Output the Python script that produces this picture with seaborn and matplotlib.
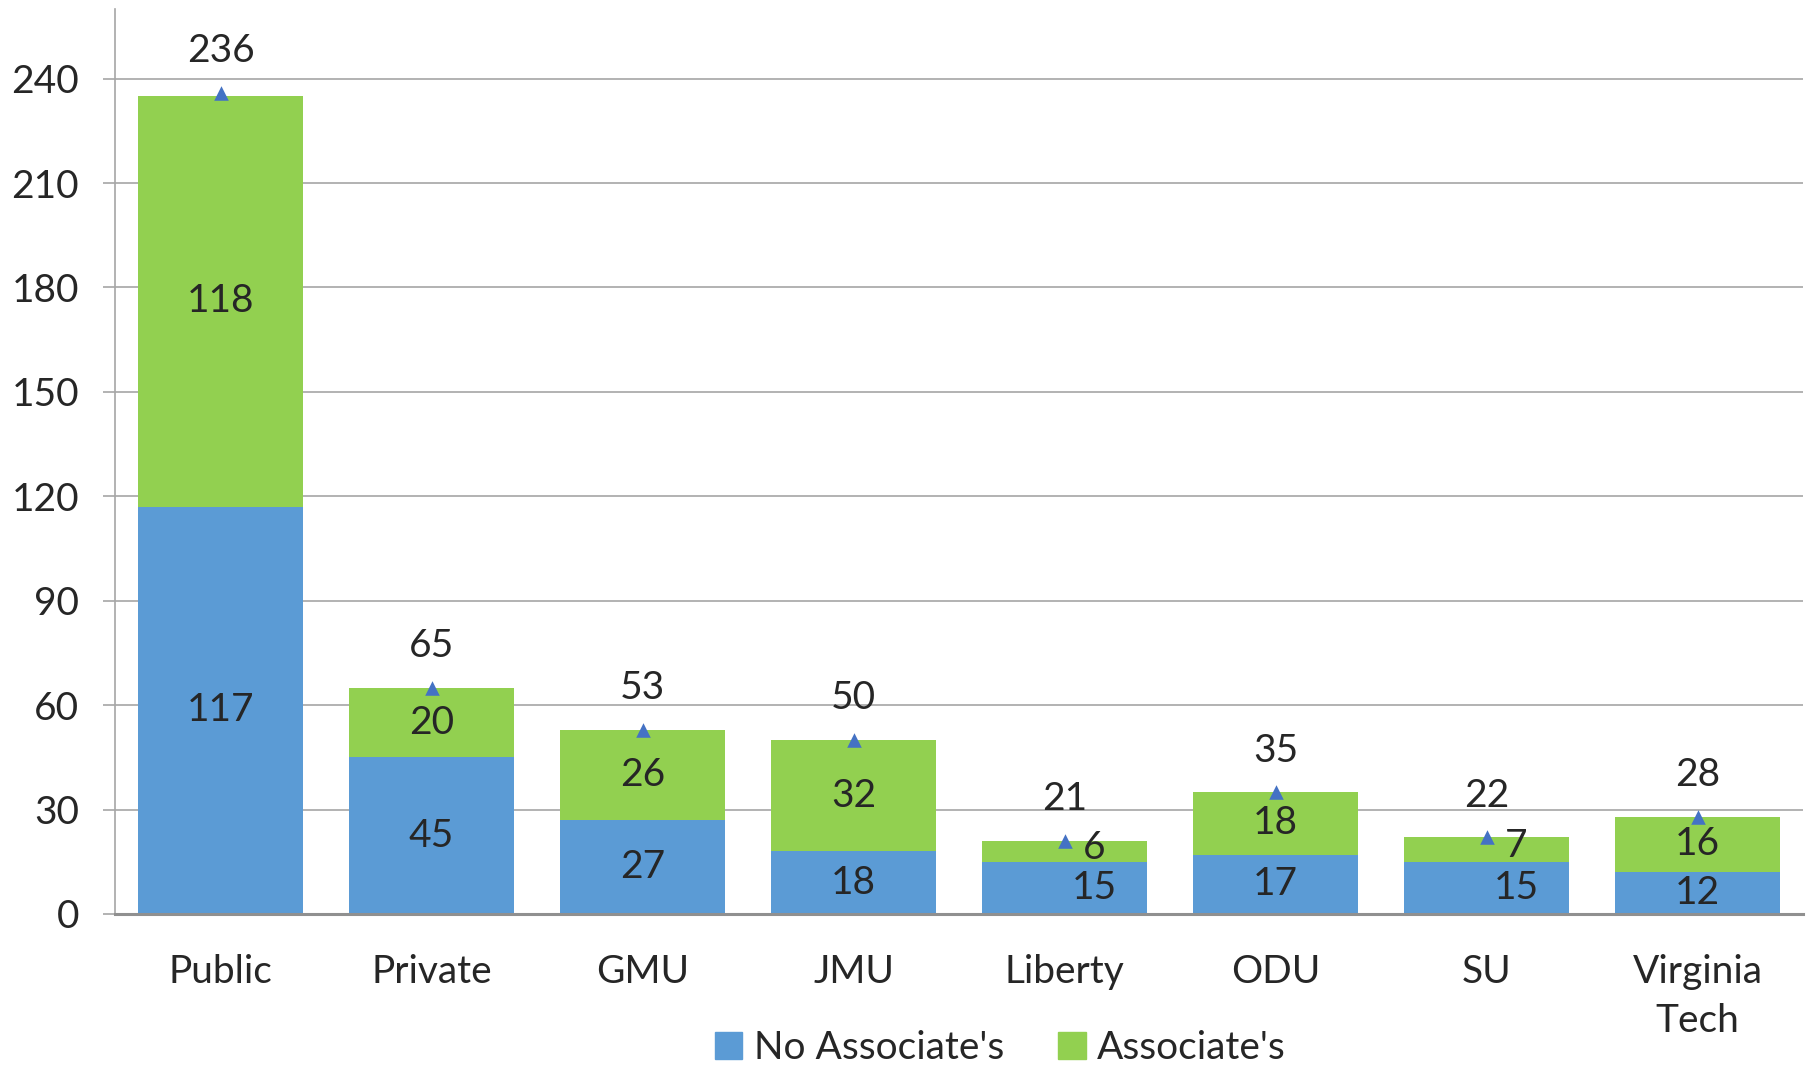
import matplotlib
matplotlib.use("Agg")
import matplotlib.pyplot as plt
import seaborn as sns
import numpy as np
from matplotlib.patches import Patch

categories = ["Public", "Private", "GMU", "JMU", "Liberty", "ODU", "SU", "Virginia\nTech"]
no_associates = [117, 45, 27, 18, 15, 17, 15, 12]
associates = [118, 20, 26, 32, 6, 18, 7, 16]
totals = [236, 65, 53, 50, 21, 35, 22, 28]
yticks = [0, 30, 60, 90, 120, 150, 180, 210, 240]

blue = "#5B9BD5"
green = "#92D050"
marker_c = "#4472C4"

sns.set_style("white")
plt.rcParams["font.family"] = ["Lato", "DejaVu Sans"]

fig = plt.figure(figsize=(18.09, 10.67), dpi=100)
ax = fig.add_axes([0.0636, 0.1434, 0.9331, 0.8482])

sns.barplot(x=categories, y=no_associates, color=blue, width=0.78, ax=ax,
            saturation=1, linewidth=0, zorder=2)
sns.barplot(x=categories, y=associates, bottom=no_associates, color=green, width=0.78,
            ax=ax, saturation=1, linewidth=0, zorder=2)
sns.scatterplot(x=categories, y=totals, marker="^", color=marker_c, s=110,
                linewidth=0, ax=ax, zorder=4)

fs = 28
for i, (a, b, t) in enumerate(zip(no_associates, associates, totals)):
    dx = 0.14 if b < 10 else 0.0
    ax.text(i + dx, a / 2, str(a), ha="center", va="center", fontsize=fs, zorder=5)
    ax.text(i + dx, a + b / 2 + (1 if b < 10 else 0), str(b), ha="center", va="center",
            fontsize=fs, zorder=5)
    ax.annotate(str(t), (i, t), xytext=(0, 17), textcoords="offset points",
                ha="center", va="bottom", fontsize=fs, zorder=5)

ax.set_xlim(-0.5, len(categories) - 0.5)
ax.set_ylim(0, 260)
ax.set_yticks(yticks)
ax.set_yticklabels([str(v) for v in yticks], fontsize=fs)
ax.tick_params(axis="x", labelsize=fs, length=0, pad=29)
for lbl in ax.get_xticklabels():
    lbl.set_linespacing(1.45)
ax.tick_params(axis="y", length=9, width=1.2, color="#A6A6A6", pad=17, left=True)
ax.yaxis.grid(True, color="#A6A6A6", linewidth=1.2, zorder=0)
ax.set_axisbelow(True)
for s in ["top", "right"]:
    ax.spines[s].set_visible(False)
ax.spines["left"].set_color("#A6A6A6")
ax.spines["left"].set_linewidth(1.2)
ax.spines["bottom"].set_color("#909090")
ax.spines["bottom"].set_linewidth(2.2)
ax.set_xlabel("")
ax.set_ylabel("")

handles = [Patch(color=blue, label="No Associate's"), Patch(color=green, label="Associate's")]
fig.legend(handles=handles, loc="center", bbox_to_anchor=(0.553, 0.018), ncol=2,
           frameon=False, fontsize=fs, handlelength=0.7, handleheight=0.7,
           handletextpad=0.3, columnspacing=1.4, borderaxespad=0)

fig.savefig("out.png", dpi=100)
